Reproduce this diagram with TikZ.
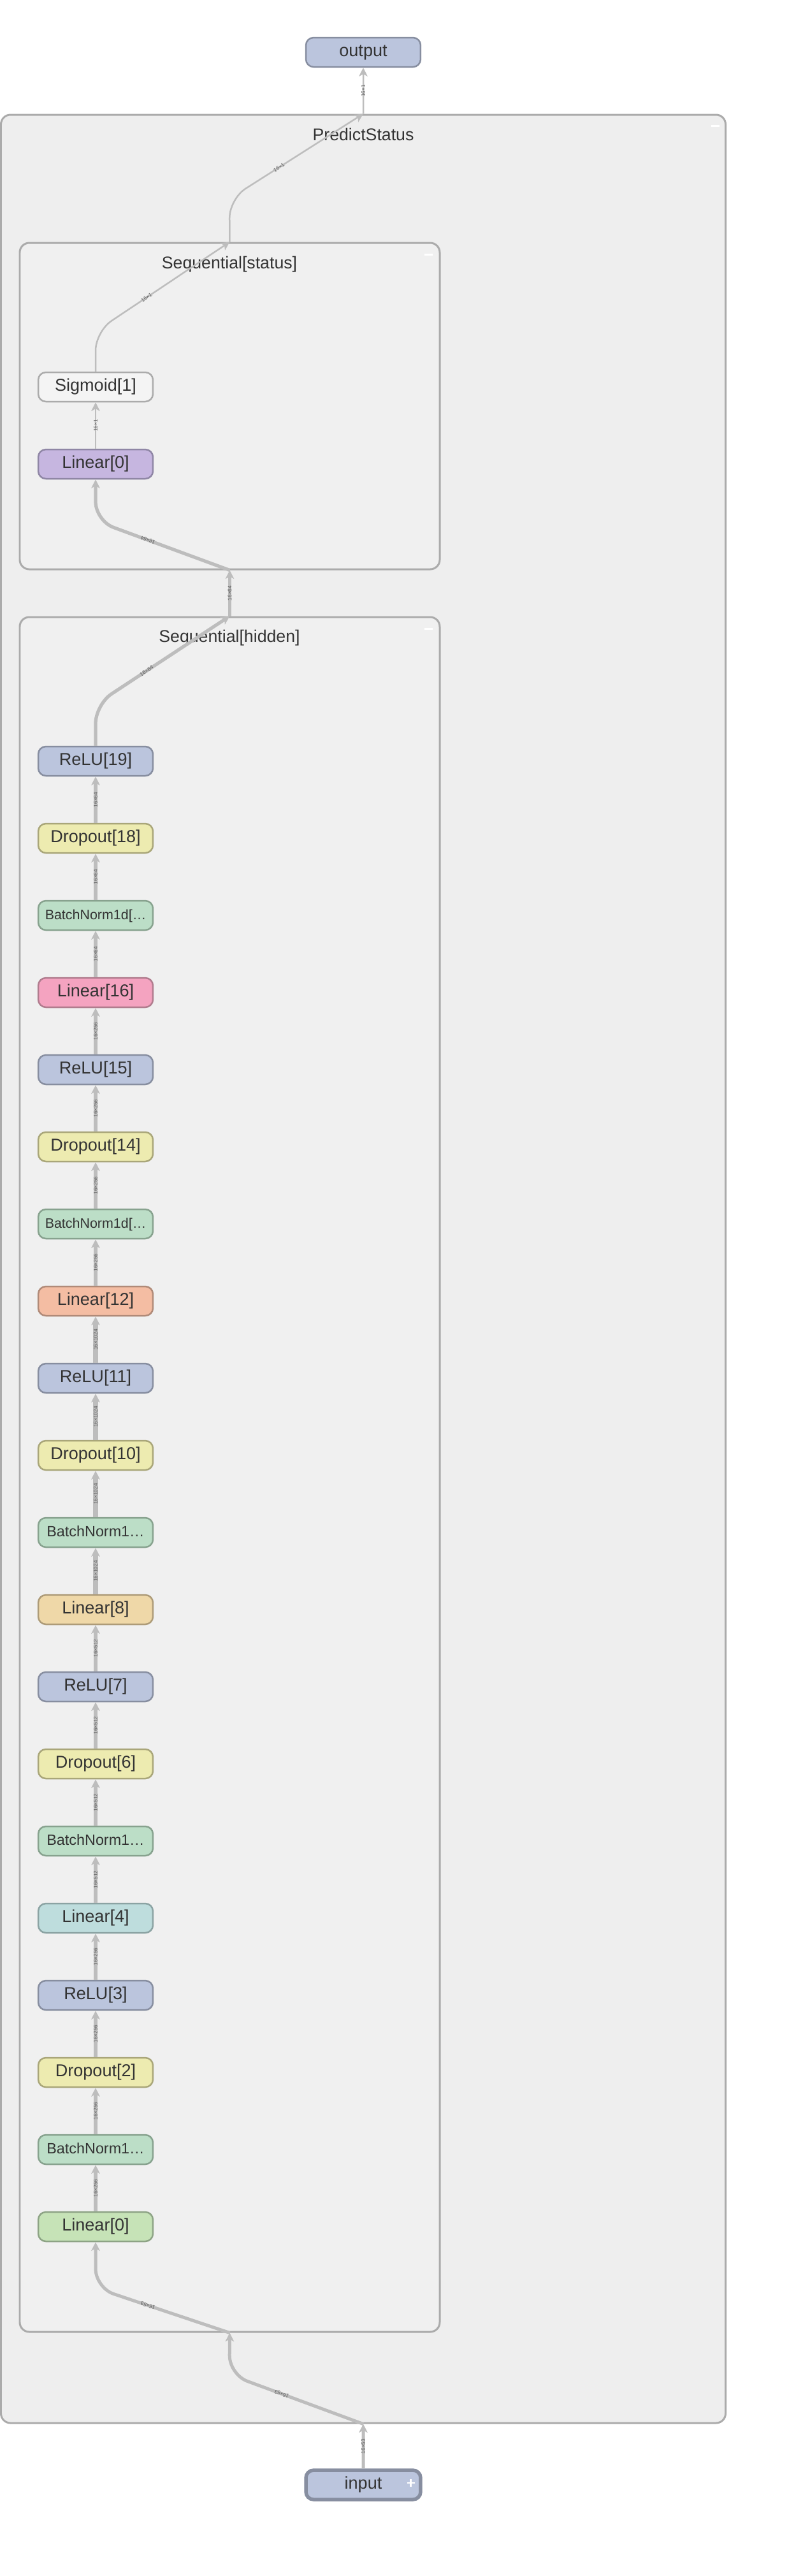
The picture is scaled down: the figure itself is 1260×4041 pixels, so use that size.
\documentclass[tikz,border=0pt]{standalone}
\usepackage{fontspec}
\setmainfont{Liberation Sans}
\usetikzlibrary{arrows.meta,fit}

\definecolor{ink}{HTML}{333333}
\definecolor{edgegray}{HTML}{BDBDBD}
\definecolor{labelgray}{HTML}{5A5A5A}
\definecolor{groupfill}{HTML}{EEEEEE}
\definecolor{subfill}{HTML}{F0F0F0}
\definecolor{groupline}{HTML}{ABABAB}
\definecolor{relufill}{HTML}{BBC5DD}\definecolor{reluline}{HTML}{878EA0}
\definecolor{dropfill}{HTML}{EDEBB0}\definecolor{dropline}{HTML}{A9A679}
\definecolor{bnfill}{HTML}{BCDEC7}\definecolor{bnline}{HTML}{87A28E}
\definecolor{sigfill}{HTML}{F4F4F4}\definecolor{sigline}{HTML}{ABABAB}
\definecolor{linafill}{HTML}{C6E3B7}\definecolor{linaline}{HTML}{8DA385}
\definecolor{linbfill}{HTML}{BEDDDD}\definecolor{linbline}{HTML}{8BA3A3}
\definecolor{lincfill}{HTML}{EFD8A8}\definecolor{lincline}{HTML}{AD9B78}
\definecolor{lindfill}{HTML}{F4BDA3}\definecolor{lindline}{HTML}{B08A78}
\definecolor{linefill}{HTML}{F4A3C0}\definecolor{lineline}{HTML}{B07C8E}
\definecolor{linsfill}{HTML}{C6B6E0}\definecolor{linsline}{HTML}{8F86A5}

\tikzset{
  layer/.style={rectangle, rounded corners=0.24cm, line width=0.05cm,
    minimum width=3.6cm, minimum height=0.92cm, inner sep=0pt, text=ink,
    text height=0.716em, text depth=0pt,
    font=\fontsize{15.4}{17}\selectfont},
  relu/.style={layer, fill=relufill, draw=reluline},
  drop/.style={layer, fill=dropfill, draw=dropline},
  bna/.style={layer, fill=bnfill, draw=bnline, font=\fontsize{12.2}{14}\selectfont},
  bnb/.style={layer, fill=bnfill, draw=bnline, font=\fontsize{13.3}{15}\selectfont},
  sig/.style={layer, fill=sigfill, draw=sigline},
  lina/.style={layer, fill=linafill, draw=linaline},
  linb/.style={layer, fill=linbfill, draw=linbline},
  linc/.style={layer, fill=lincfill, draw=lincline},
  lind/.style={layer, fill=lindfill, draw=lindline},
  line/.style={layer, fill=linefill, draw=lineline},
  lins/.style={layer, fill=linsfill, draw=linsline},
  io/.style={relu},
  group/.style={rectangle, rounded corners=0.3cm, line width=0.06cm,
    draw=groupline, inner sep=0pt},
  title/.style={text=ink, font=\fontsize{15.2}{17}\selectfont, inner sep=0pt},
  edge/.style={draw=edgegray, rounded corners=0.6cm,
    -{Stealth[length=0.27cm 0, width=0.27cm 0, inset=0.07cm 0]}},
  e1/.style={edge, line width=0.05cm},
  e53/.style={edge, line width=0.1cm},
  e64/.style={edge, line width=0.105cm},
  e256/.style={edge, line width=0.125cm},
  e512/.style={edge, line width=0.135cm},
  e1024/.style={edge, line width=0.145cm},
  elabel/.style={sloped, allow upside down, inner sep=0pt, text=labelgray,
    font=\fontsize{4.7}{5}\selectfont},
}

\newcommand*{\ly}{121}
\newcommand*{\Layers}[1]{% #1 = list of index/text/style
  \foreach \i/\txt/\sty in {#1} {
    \node [\sty] (h\i) at (150, 3493-\ly*\i) {\txt};
  }%
}
\newcommand*{\Links}[1]{% #1 = list of from/to/size
  \foreach \src/\dst/\sz in {#1} {
    \draw [e\sz] (h\src) -- node [elabel] {16×\sz} (h\dst);
  }%
}

\begin{document}
\begin{tikzpicture}[x=0.02cm, y=-0.02cm]
  \useasboundingbox [fill=white] (0,0) rectangle (1260,4041);

  % groups
  \node [group, fill=groupfill, fit={(1.5,180) (1138.5,3801)}] (predict) {};
  \node [group, fill=subfill, fit={(31,381) (690,893)}] (status) {};
  \node [group, fill=subfill, fit={(31,968) (690,3658)}] (hidden) {};
  \fill [white] (1116,196) rectangle (1129,199);
  \fill [white] (666,398) rectangle (679,401);
  \fill [white] (666,985) rectangle (679,988);

  \node [title] (tpredict) at (570,211) {PredictStatus};
  \node [title] (tstatus) at (360,415) {Sequential[status]};
  \node [title] (thidden) at (360,1001) {Sequential[hidden]};

  % in / out
  \node [io] (outp) at (570,82) {output};
  \node [io, line width=0.11cm] (inp) at (570,3898) {input};
  \draw [white, line width=0.05cm] (inp.east) ++(-24,-3) -- ++(12,0)
    (inp.east) ++(-18,-9) -- ++(0,12);

  % status
  \node [lins] (s0) at (150,728) {Linear[0]};
  \node [sig] (s1) at (150,607) {Sigmoid[1]};

  % hidden
  \Layers{0/Linear[0]/lina, 1/BatchNorm1…/bnb, 2/Dropout[2]/drop, 3/ReLU[3]/relu,
    4/Linear[4]/linb, 5/BatchNorm1…/bnb, 6/Dropout[6]/drop, 7/ReLU[7]/relu,
    8/Linear[8]/linc, 9/BatchNorm1…/bnb, 10/Dropout[10]/drop, 11/ReLU[11]/relu,
    12/Linear[12]/lind, 13/BatchNorm1d[…/bna, 14/Dropout[14]/drop, 15/ReLU[15]/relu,
    16/Linear[16]/line, 17/BatchNorm1d[…/bna, 18/Dropout[18]/drop, 19/ReLU[19]/relu}

  \coordinate (kOut) at (360,312);
  \coordinate (kSig) at (150,520);
  \coordinate (kLin) at (150,817);
  \coordinate (kTop) at (150,1105);
  \coordinate (kBot) at (150,3589);
  \coordinate (kIn) at (360,3725);

  \Links{0/1/256, 1/2/256, 2/3/256, 3/4/256, 4/5/512, 5/6/512, 6/7/512, 7/8/512,
    8/9/1024, 9/10/1024, 10/11/1024, 11/12/1024, 12/13/256, 13/14/256, 14/15/256,
    15/16/256, 16/17/64, 17/18/64, 18/19/64}

  \draw [e53] (inp) -- node [elabel] {16×53} (predict.south);
  \draw [e53] (predict.south) -- node [elabel, pos=.61] {16×53} (kIn) -- (hidden.south);
  \draw [e53] (hidden.south) -- node [elabel, pos=.61] {16×53} (kBot) -- (h0);
  \draw [e64] (h19) -- (kTop) -- node [elabel, pos=.38] {16×64} (hidden.north);
  \draw [e64] (hidden.north) -- node [elabel] {16×64} (status.south);
  \draw [e64] (status.south) -- node [elabel, pos=.61] {16×64} (kLin) -- (s0);
  \draw [e1] (s0) -- node [elabel] {16×1} (s1);
  \draw [e1] (s1) -- (kSig) -- node [elabel, pos=.38] {16×1} (status.north);
  \draw [e1] (status.north) -- (kOut) -- node [elabel, pos=.37] {16×1} (predict.north);
  \draw [e1] (predict.north) -- node [elabel] {16×1} (outp);
\end{tikzpicture}
\end{document}
